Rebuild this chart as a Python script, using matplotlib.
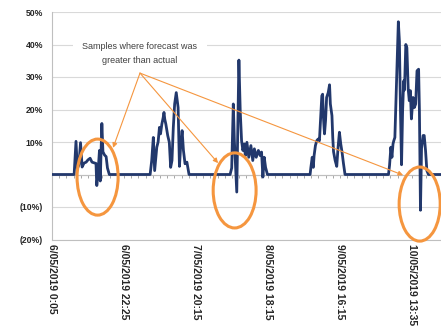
import matplotlib
matplotlib.use("Agg")
import matplotlib.pyplot as plt
from matplotlib.patches import Ellipse
from matplotlib.ticker import FixedLocator, MultipleLocator

# Forecast minus actual, % of actual, 5-minute samples (sample index, value)
sample_idx = [
    0, 83, 90, 95, 101, 107, 113, 120, 128, 135, 143, 150, 158, 165, 168, 173,
    178, 181, 187, 191, 197, 203, 208, 215,
    368, 374, 380, 385, 393, 398, 403, 407, 412, 417, 420, 423, 427, 434, 440,
    445, 450, 455, 460, 466, 473, 478, 483, 488, 493, 499, 506, 514,
    668, 674, 680, 684, 689, 693, 701, 706, 711, 716, 721, 725, 731, 738, 746,
    753, 759, 766, 774, 781, 786, 791, 796, 801, 808,
    968, 971, 976, 980, 983, 988, 993, 998, 1003, 1007, 1012, 1015, 1018, 1022,
    1026, 1030, 1036, 1041, 1044, 1050, 1053, 1056, 1062, 1068, 1073, 1078,
    1083, 1088, 1093, 1099,
    1262, 1266, 1271, 1275, 1279, 1282, 1286, 1290, 1294, 1299, 1303, 1307,
    1311, 1315, 1319, 1322, 1327, 1331, 1336, 1340, 1344, 1348, 1354, 1359,
    1364, 1369, 1375, 1378, 1382, 1386, 1392, 1396, 1401, 1406, 1412, 1459,
]
pct = [
    0, 0, 10.2, 1.8, 3.0, 9.8, 2.3, 3.5, 3.8, 4.5, 5.0, 3.8, 3.6, 3.4, -3.4, 1.0,
    7.4, -2.0, 15.7, 7.0, 6.0, 5.5, 2.0, 0,
    0, 4.3, 11.4, 1.2, 8.4, 10.0, 14.5, 12.5, 15.5, 17.5, 19.1, 17.0, 15.5, 12.0, 9.9,
    2.2, 4.3, 14.5, 21.7, 25.2, 20.6, 2.5, 9.4, 13.5, 7.4, 3.3, 3.8, 0,
    0, 2.0, 21.7, 10.4, 2.0, -5.4, 35.2, 19.5, 10.4, 7.4, 9.4, 5.8, 9.9, 5.3, 8.9,
    4.3, 7.9, 5.3, 7.4, 5.8, 6.9, -0.8, 5.3, 2.2, 0,
    0, 2.2, 5.3, 2.2, 5.8, 8.9, 10.4, 10.9, 10.4, 16.6, 24.2, 24.7, 17.6, 12.5,
    16.6, 23.7, 25.2, 27.6, 21.7, 18.1, 11.4, 7.0, 4.3, 2.5, 8.4, 13.0,
    9.4, 6.8, 3.5, 0,
    0, 2.8, 8.4, 5.3, 9.4, 10.4, 11.4, 22.7, 32.9, 47.0, 41.0, 19.6,
    3.0, 19.6, 28.8, 26.0, 40.0, 39.0, 26.3, 22.7, 25.8, 17.1, 23.7, 20.6,
    21.7, 31.9, 32.4, 20.0, -11.0, 8.0, 12.0, 12.0, 7.4, 1.2, 0, 0,
]

tick_pos = [0, 270, 540, 810, 1080, 1350]
tick_labels = ["6/05/2019 0:05", "6/05/2019 22:25", "7/05/2019 20:15",
               "8/05/2019 18:15", "9/05/2019 16:15", "10/05/2019 13:35"]
y_ticks = [-20, -10, 0, 10, 20, 30, 40, 50]
y_labels = ["(20%)", "(10%)", "", "10%", "20%", "30%", "40%", "50%"]

note_text = "Samples where forecast was\ngreater than actual"
note_anchor = (330, 31.2)
arrow_targets = [(229, 8.2), (623, 3.5), (1317, -0.2)]
# ellipse (centre x, centre y, width, height)
circles = [(171, -0.8, 154, 23.4), (685, -4.9, 161, 23.1), (1379, -9.1, 154, 22.8)]

NAVY = "#22386C"
ORANGE = "#F5963F"
GRID = "#D9D9D9"
AXIS = "#BFBFBF"

fig = plt.figure(figsize=(4.41, 3.26), dpi=100)
ax = fig.add_axes([52 / 441, (326 - 239.5) / 326, (441 - 52) / 441, (239.5 - 12) / 326])
ax.set_xlim(0, 1459)
ax.set_ylim(-20, 50)

ax.set_yticks(y_ticks)
ax.set_yticklabels(y_labels, fontfamily="Liberation Sans", fontweight="bold",
                   fontsize=6.2, color="#262626")
ax.tick_params(axis="y", length=0, pad=6.5)
ax.yaxis.grid(True, color=GRID, lw=0.8)
ax.set_axisbelow(True)

for s in ("top", "right"):
    ax.spines[s].set_visible(False)
ax.spines["left"].set_color(AXIS)
ax.spines["left"].set_linewidth(0.8)
ax.spines["bottom"].set_position(("data", 0))
ax.spines["bottom"].set_color(AXIS)
ax.spines["bottom"].set_linewidth(0.8)
ax.xaxis.set_major_locator(MultipleLocator(27))
ax.tick_params(axis="x", length=2.5, width=0.7, color="#A6A6A6",
               direction="out", labelbottom=False)

sec = ax.secondary_xaxis(0)
sec.xaxis.set_major_locator(FixedLocator(tick_pos))
sec.set_xticklabels(tick_labels, rotation=270, fontfamily="Liberation Sans",
                    fontweight="bold", fontsize=7.5, color="#262626")
sec.tick_params(length=0, pad=3)
sec.spines["bottom"].set_color(AXIS)
sec.spines["bottom"].set_linewidth(0.8)

ax.plot(sample_idx, pct, color=NAVY, lw=2.0, solid_joinstyle="round", zorder=3)

for cx, cy, w, h in circles:
    ax.add_patch(Ellipse((cx, cy), w, h, fill=False, ec=ORANGE, lw=2.2,
                         clip_on=False, zorder=5))

ax.text(330, 37.2, note_text, ha="center", va="center", fontsize=6.5,
        fontfamily="Liberation Sans", color="#404040", linespacing=1.75,
        bbox=dict(boxstyle="square,pad=1.1", fc="white", ec="none"), zorder=4)

for tx, ty in arrow_targets:
    ax.annotate("", xy=(tx, ty), xytext=note_anchor,
                arrowprops=dict(arrowstyle="-|>", color=ORANGE, lw=0.8,
                                shrinkA=0, shrinkB=0, mutation_scale=7),
                zorder=6)

fig.savefig("out.png", dpi=100)
